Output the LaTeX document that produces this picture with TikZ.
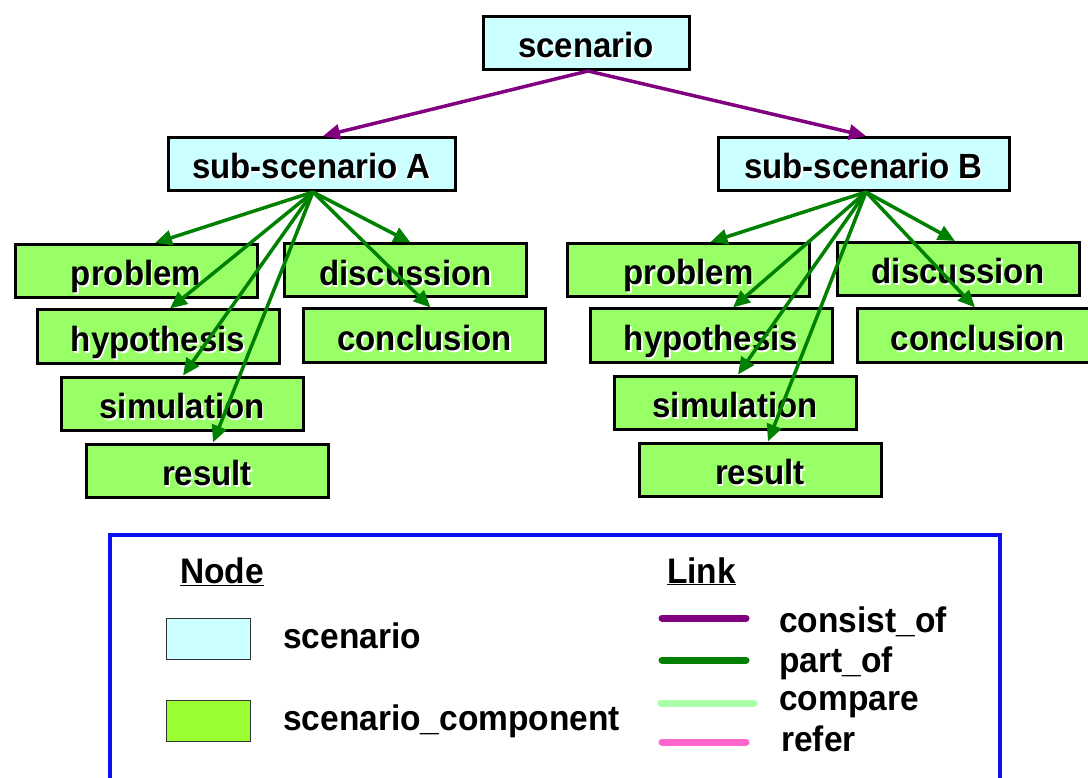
\documentclass[tikz,border=0pt]{standalone}
\usepackage{fontspec}
\usepackage{graphicx}
\setmainfont{Liberation Sans}
\usetikzlibrary{arrows.meta}
\definecolor{scencol}{HTML}{CCFFFF}
\definecolor{compcol}{HTML}{99FF66}
\definecolor{compleg}{HTML}{99FF33}
\definecolor{partcol}{HTML}{008000}
\definecolor{conscol}{HTML}{800080}
\definecolor{cmpcol}{HTML}{AAFFAA}
\definecolor{refcol}{HTML}{FF66CC}
\definecolor{legblue}{HTML}{0A10F0}
\newcommand\stt[1]{\scalebox{1}[1.06]{#1}}
\newcommand\shd[1]{\stt{\rlap{\raisebox{-1.6pt}{\hspace{1.6pt}\textcolor{white}{#1}}}#1}}
\tikzset{
  x=1pt, y=1pt,
  lbl/.style={font=\fontsize{33}{38}\selectfont\bfseries, text=black},
  boxbase/.style={lbl, draw=black, line width=3pt, minimum width=242pt, minimum height=53pt, inner sep=0pt, text height=33pt, text depth=3pt},
  scenbox/.style={boxbase, fill=scencol},
  compbox/.style={boxbase, fill=compcol},
  partof/.style={draw=partcol, line width=3.5pt, -{Triangle[length=17pt,width=15pt]}},
  consist/.style={draw=conscol, line width=3.5pt, -{Triangle[length=17pt,width=15pt]}},
  legline/.style={line width=7pt, line cap=round},
  legtext/.style={lbl, font=\fontsize{33.5}{38}\selectfont\bfseries, anchor=base west, inner sep=0pt},
  swatch/.style={draw=black!80, line width=1pt, minimum width=84pt, minimum height=41pt, inner sep=0pt}
}
\begin{document}
\begin{tikzpicture}
\useasboundingbox (0,0) rectangle (1088,-778);
% tree nodes
\node[scenbox, minimum width=206pt] (scen) at (586,-43) {\shd{scenario}};
\node[scenbox, minimum width=287pt] (subA) at (311.5,-164) {\shd{sub-scenario A}};
\node[scenbox, minimum width=291pt] (subB) at (863.5,-164) {\shd{sub-scenario B}};
% left group
\node[compbox] (pA) at (136,-271) {\shd{problem}};
\node[compbox] (dA) at (405.5,-270.5) {\shd{discussion}};
\node[compbox] (hA) at (158,-336.5) {\shd{hypothesis}};
\node[compbox] (cA) at (424.5,-335.5) {\shd{conclusion}};
\node[compbox] (sA) at (182,-403.5) {\shd{simulation}};
\node[compbox] (rA) at (207,-470.5) {\shd{result}};
% right group
\node[compbox] (pB) at (688.5,-270) {\shd{problem}};
\node[compbox] (dB) at (958,-269) {\shd{discussion}};
\node[compbox] (hB) at (711,-335.5) {\shd{hypothesis}};
\node[compbox] (cB) at (978,-335.5) {\shd{conclusion}};
\node[compbox] (sB) at (735,-402.5) {\shd{simulation}};
\node[compbox] (rB) at (760,-469.5) {\shd{result}};
% consist_of
\draw[consist] ([xshift=2pt]scen.south) -- ([xshift=11.5pt]subA.north);
\draw[consist] ([xshift=2pt]scen.south) -- ([xshift=2.5pt]subB.north);
% part_of left
\draw[partof] ([xshift=1.5pt]subA.south) -- ([xshift=19pt]pA.north);
\draw[partof] ([xshift=1.5pt]subA.south) -- ([xshift=12pt]hA.north);
\draw[partof] ([xshift=1.5pt]subA.south) -- ([xshift=1pt]sA.north);
\draw[partof] ([xshift=1.5pt]subA.south) -- ([xshift=6pt]rA.north);
\draw[partof] ([xshift=1.5pt]subA.south) -- ([xshift=5pt]dA.north);
\draw[partof] ([xshift=1.5pt]subA.south) -- ([xshift=6pt]cA.north);
% part_of right
\draw[partof] ([xshift=2.5pt]subB.south) -- ([xshift=22pt]pB.north);
\draw[partof] ([xshift=2.5pt]subB.south) -- ([xshift=22pt]hB.north);
\draw[partof] ([xshift=2.5pt]subB.south) -- ([xshift=3pt]sB.north);
\draw[partof] ([xshift=2.5pt]subB.south) -- ([xshift=8pt]rB.north);
\draw[partof] ([xshift=2.5pt]subB.south) -- ([xshift=-3pt]dB.north);
\draw[partof] ([xshift=2.5pt]subB.south) -- ([xshift=-3pt]cB.north);
% legend frame
\draw[legblue, line width=4pt] (110,-800) -- (110,-535) -- (1000,-535) -- (1000,-800);
\node[legtext] (nodehead) at (180,-583) {\stt{\underline{Node}}};
\node[legtext] (linkhead) at (667,-583) {\stt{\underline{Link}}};
\node[swatch, fill=scencol] (sw1) at (208.5,-639) {};
\node[swatch, fill=compleg] (sw2) at (208.5,-721) {};
\node[legtext] (t1) at (283,-648) {\stt{scenario}};
\node[legtext] (t2) at (283,-730) {\stt{scenario\_component}};
\coordinate (l1a) at (662,-618); \coordinate (l1b) at (746,-618);
\coordinate (l2a) at (662,-660); \coordinate (l2b) at (746,-660);
\coordinate (l3a) at (661,-703); \coordinate (l3b) at (754,-703);
\coordinate (l4a) at (662,-742); \coordinate (l4b) at (746,-742);
\draw[legline, conscol] (l1a) -- (l1b);
\draw[legline, partcol] (l2a) -- (l2b);
\draw[legline, cmpcol] (l3a) -- (l3b);
\draw[legline, refcol] (l4a) -- (l4b);
\node[legtext] (k1) at (779,-632) {\stt{consist\_of}};
\node[legtext] (k2) at (779,-672) {\stt{part\_of}};
\node[legtext] (k3) at (779,-710) {\stt{compare}};
\node[legtext] (k4) at (781,-751) {\stt{refer}};
\end{tikzpicture}
\end{document}
